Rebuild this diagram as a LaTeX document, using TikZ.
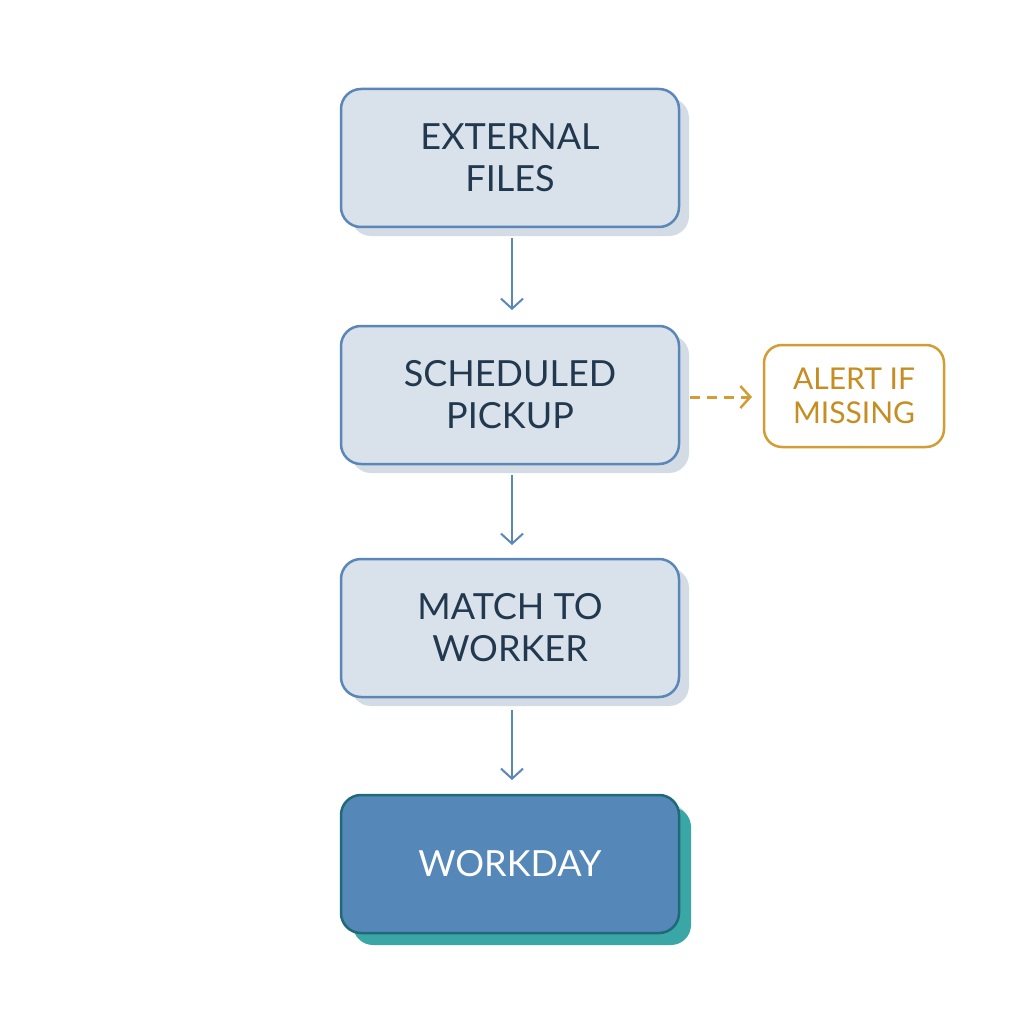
\documentclass[tikz,border=0pt]{standalone}
\usepackage{fontspec}
\setmainfont{Lato}
\usetikzlibrary{shadows,arrows.meta}
\definecolor{bfill}{HTML}{D9E2EB}
\definecolor{bdraw}{HTML}{5B87B8}
\definecolor{bshad}{HTML}{D3DCE5}
\definecolor{btext}{HTML}{22384F}
\definecolor{wfill}{HTML}{5588B8}
\definecolor{wdraw}{HTML}{1E6A78}
\definecolor{wshad}{HTML}{3AA6A6}
\definecolor{amber}{HTML}{D29D34}
\definecolor{atext}{HTML}{C68E22}
\begin{document}
\begin{tikzpicture}[x=1pt,y=-1pt,
  box/.style={rectangle,rounded corners=20pt,minimum width=338pt,minimum height=138pt,line width=2.5pt,draw=bdraw,fill=bfill,text=btext,align=center,font=\fontsize{36}{42}\selectfont,
    copy shadow={shadow xshift=10pt,shadow yshift=-9pt,fill=bshad,draw=none}},
  wbox/.style={box,draw=wdraw,fill=wfill,text=white,copy shadow={shadow xshift=12pt,shadow yshift=-12pt,fill=wshad,draw=none}},
  alert/.style={rectangle,rounded corners=18pt,minimum width=180pt,minimum height=102pt,line width=2.5pt,draw=amber,fill=white,text=atext,align=center,font=\fontsize{30}{34}\selectfont},
  arr/.style={draw=bdraw,line width=2pt,-{Straight Barb[length=10pt,width=22pt,line width=2pt]}}]
\useasboundingbox (0,0) rectangle (1024,1024);
\fill[white] (0,0) rectangle (1024,1024);
\node[box] (a) at (510,158) {EXTERNAL\\FILES};
\node[box] (b) at (510,395) {SCHEDULED\\PICKUP};
\node[box] (c) at (510,628) {MATCH TO\\WORKER};
\node[wbox] (d) at (510,864) {WORKDAY};
\node[alert] (e) at (854,396) {ALERT IF\\MISSING};
\draw[arr] (512,238) -- (512,310);
\draw[arr] (512,475) -- (512,545);
\draw[arr] (512,710) -- (512,780);
\draw[draw=amber,line width=3pt,dash pattern=on 10pt off 7pt,-{Straight Barb[length=10pt,width=22pt,line width=2.5pt]}] (690,397) -- (752,397);
\end{tikzpicture}
\end{document}
